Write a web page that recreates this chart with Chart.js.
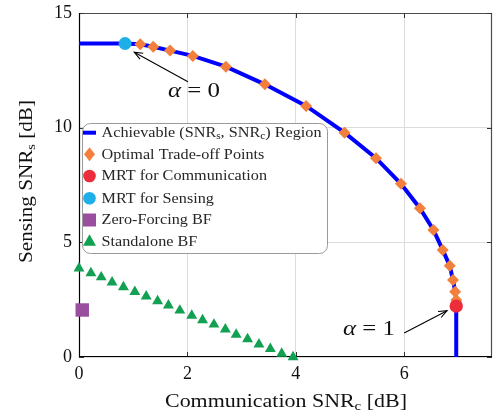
<!DOCTYPE html>
<html>
<head>
<meta charset="utf-8">
<script src="https://cdn.jsdelivr.net/npm/chart.js@4"></script>
<style>
html,body{margin:0;padding:0;background:#fff;overflow:hidden;}
#wrap{width:494px;height:415px;}
</style>
</head>
<body>
<div id="wrap"><canvas id="c" width="494" height="415"></canvas></div>
<script>
// ---- data ----
const xTicks = [0, 2, 4, 6];
const yTicks = [0, 5, 10, 15];

// Achievable region boundary (SNR_c, SNR_s)
const regionSNRc = [0, 0.85, 1.13, 1.37, 1.68, 2.10, 2.71, 3.43, 4.19, 4.90, 5.48, 5.94, 6.29, 6.54, 6.71, 6.84, 6.90, 6.94, 6.96, 6.96, 6.96];
const regionSNRs = [13.67, 13.67, 13.64, 13.53, 13.36, 13.13, 12.66, 11.89, 10.95, 9.78, 8.67, 7.55, 6.49, 5.54, 4.67, 3.98, 3.36, 2.85, 2.49, 2.22, 0];

// Optimal trade-off points
const optSNRc = [1.13, 1.37, 1.68, 2.10, 2.71, 3.43, 4.19, 4.90, 5.48, 5.94, 6.29, 6.54, 6.71, 6.84, 6.90, 6.94, 6.96];
const optSNRs = [13.64, 13.53, 13.36, 13.13, 12.66, 11.89, 10.95, 9.78, 8.67, 7.55, 6.49, 5.54, 4.67, 3.98, 3.36, 2.85, 2.49];

// MRT for communication / sensing
const mrtCommSNRc = [6.96];
const mrtCommSNRs = [2.22];
const mrtSensSNRc = [0.85];
const mrtSensSNRs = [13.67];

// Zero-forcing BF
const zfSNRc = [0.06];
const zfSNRs = [2.05];

// Standalone BF
const saSNRc = [0, 0.22, 0.41, 0.61, 0.82, 1.03, 1.24, 1.45, 1.65, 1.86, 2.08, 2.28, 2.49, 2.70, 2.90, 3.11, 3.32, 3.53, 3.74, 3.95];
const saSNRs = [3.87, 3.66, 3.48, 3.26, 3.05, 2.84, 2.65, 2.44, 2.25, 2.03, 1.81, 1.61, 1.42, 1.21, 0.98, 0.78, 0.55, 0.36, 0.15, 0.0];

const pts = (xs, ys) => xs.map((x, i) => ({x: x, y: ys[i]}));

// ---- styles ----
const C = {
  blue: '#0000ff',
  orange: '#f2803c',
  red: '#ec2d3b',
  cyan: '#1eaee8',
  purple: '#9a4f9e',
  green: '#12a052'
};
const SERIF = "'Liberation Serif', 'DejaVu Serif', serif";
const LEG = 15, LSUB = 10.5;
const AREA = {left: 79, top: 13, right: 492, bottom: 357};

const legendItems = [
  {type: 'line', color: C.blue, parts: [['Achievable (SNR',LEG,0],['s',LSUB,3.5],[', SNR',LEG,0],['c',LSUB,3.5],[') Region',LEG,0]]},
  {type: 'rectRot', color: C.orange, parts: [['Optimal Trade-off Points',LEG,0]]},
  {type: 'circle', color: C.red, parts: [['MRT for Communication',LEG,0]]},
  {type: 'circle', color: C.cyan, parts: [['MRT for Sensing',LEG,0]]},
  {type: 'rect', color: C.purple, parts: [['Zero-Forcing BF',LEG,0]]},
  {type: 'triangle', color: C.green, parts: [['Standalone BF',LEG,0]]}
];

function partsWidth(ctx, parts) {
  let total = 0;
  parts.forEach(p => { ctx.font = (p[3] ? p[3] + ' ' : '') + p[1] + 'px ' + SERIF; total += ctx.measureText(p[0]).width; });
  return total;
}

function drawParts(ctx, parts, x, y, align, sx) {
  sx = sx || 1;
  const total = partsWidth(ctx, parts) * sx;
  let cx = align === 'center' ? x - total / 2 : x;
  parts.forEach(p => {
    ctx.font = (p[3] ? p[3] + ' ' : '') + p[1] + 'px ' + SERIF;
    const w = ctx.measureText(p[0]).width;
    ctx.save();
    ctx.translate(cx, y + p[2]);
    ctx.scale(sx, 1);
    ctx.fillText(p[0], 0, 0);
    ctx.restore();
    cx += w * sx;
  });
}

function drawFit(ctx, parts, x, y, targetW) {
  const w = partsWidth(ctx, parts);
  drawParts(ctx, parts, x, y, 'center', targetW / w);
}

function drawMarker(ctx, type, color, x, y) {
  ctx.save();
  ctx.fillStyle = color;
  ctx.strokeStyle = color;
  ctx.beginPath();
  if (type === 'line') {
    ctx.lineWidth = 4;
    ctx.moveTo(x - 6.5, y); ctx.lineTo(x + 6.5, y); ctx.stroke();
  } else if (type === 'rectRot') {
    ctx.moveTo(x, y - 7); ctx.lineTo(x + 5.5, y); ctx.lineTo(x, y + 7); ctx.lineTo(x - 5.5, y); ctx.closePath(); ctx.fill();
  } else if (type === 'circle') {
    ctx.arc(x, y, 6.3, 0, Math.PI * 2); ctx.fill();
  } else if (type === 'rect') {
    ctx.rect(x - 6.5, y - 6.5, 13, 13); ctx.fill();
  } else if (type === 'triangle') {
    ctx.moveTo(x, y - 7); ctx.lineTo(x + 6.5, y + 4.5); ctx.lineTo(x - 6.5, y + 4.5); ctx.closePath(); ctx.fill();
  }
  ctx.restore();
}

function arrow(ctx, x1, y1, x2, y2) {
  ctx.save();
  ctx.strokeStyle = '#000'; ctx.fillStyle = '#000'; ctx.lineWidth = 1.1;
  ctx.beginPath(); ctx.moveTo(x1, y1); ctx.lineTo(x2, y2); ctx.stroke();
  const a = Math.atan2(y2 - y1, x2 - x1);
  const L = 9, s = 0.38;
  ctx.beginPath();
  ctx.moveTo(x2 - L * Math.cos(a - s), y2 - L * Math.sin(a - s));
  ctx.lineTo(x2, y2);
  ctx.lineTo(x2 - L * Math.cos(a + s), y2 - L * Math.sin(a + s));
  ctx.stroke();
  ctx.restore();
}

const annotations = [
  {label: '0', text: {x: 2.12, y: 11.56}, from: {x: 2.01, y: 12.0}, to: {x: 1.02, y: 13.29}},
  {label: '1', text: {x: 5.35, y: 1.18}, from: {x: 6.0, y: 1.05}, to: {x: 6.79, y: 2.02}}
];

const decor = {
  id: 'decor',
  afterLayout(chart) {
    // pin the plot area to where the reference has it
    const a = chart.chartArea;
    a.left = AREA.left; a.top = AREA.top; a.right = AREA.right; a.bottom = AREA.bottom;
    a.width = AREA.right - AREA.left; a.height = AREA.bottom - AREA.top;
    const x = chart.scales.x, y = chart.scales.y;
    x.left = AREA.left; x.right = AREA.right; x.width = a.width;
    x.top = AREA.bottom; x.bottom = chart.height; x.height = chart.height - AREA.bottom;
    y.left = 0; y.right = AREA.left; y.width = AREA.left;
    y.top = AREA.top; y.bottom = AREA.bottom; y.height = a.height;
    x.configure(); y.configure();
  },
  beforeDatasetsDraw(chart) {
    const {ctx, chartArea: a, scales} = chart;
    ctx.save();
    ctx.strokeStyle = '#4d4d4d'; ctx.lineWidth = 1.2;
    ctx.beginPath();
    ctx.moveTo(a.left, a.top + 0.5); ctx.lineTo(a.right - 0.5, a.top + 0.5); ctx.lineTo(a.right - 0.5, a.bottom);
    ctx.stroke();
    ctx.strokeStyle = '#333'; ctx.lineWidth = 1;
    ctx.beginPath();
    xTicks.forEach(v => { const px = Math.round(scales.x.getPixelForValue(v)) + 0.5;
      ctx.moveTo(px, a.bottom); ctx.lineTo(px, a.bottom - 5);
      ctx.moveTo(px, a.top); ctx.lineTo(px, a.top + 5); });
    yTicks.forEach(v => { const py = Math.round(scales.y.getPixelForValue(v)) + 0.5;
      ctx.moveTo(a.left, py); ctx.lineTo(a.left + 5, py);
      ctx.moveTo(a.right, py); ctx.lineTo(a.right - 5, py); });
    ctx.stroke();
    ctx.strokeStyle = '#000'; ctx.lineWidth = 1.2;
    ctx.beginPath();
    ctx.moveTo(a.left + 0.5, a.top); ctx.lineTo(a.left + 0.5, a.bottom - 0.5); ctx.lineTo(a.right, a.bottom - 0.5);
    ctx.stroke();
    ctx.restore();
  },
  afterDraw(chart) {
    const {ctx, scales} = chart;
    ctx.save();
    ctx.fillStyle = '#111';
    ctx.textBaseline = 'middle';
    drawFit(ctx, [['Communication SNR',19,0],['c',13,4.5],[' [dB]',19,0]], 286, 402, 242);
    ctx.save();
    ctx.translate(27, 181.5);
    ctx.rotate(-Math.PI / 2);
    drawFit(ctx, [['Sensing SNR',19,0],['s',13,4.5],[' [dB]',19,0]], 0, 0, 163);
    ctx.restore();

    annotations.forEach(an => {
      const tx = scales.x.getPixelForValue(an.text.x), ty = scales.y.getPixelForValue(an.text.y);
      ctx.fillStyle = '#111';
      drawFit(ctx, [['α',21,0,'italic'],[' = ' + an.label,21,0]], tx, ty, 52);
      arrow(ctx, scales.x.getPixelForValue(an.from.x), scales.y.getPixelForValue(an.from.y),
                 scales.x.getPixelForValue(an.to.x), scales.y.getPixelForValue(an.to.y));
    });

    const bx = 82, by = 123, bw = 245, bh = 130, r = 8;
    ctx.beginPath();
    ctx.roundRect(bx + 0.5, by + 0.5, bw, bh, r);
    ctx.fillStyle = '#fff'; ctx.fill();
    ctx.strokeStyle = '#9a9a9a'; ctx.lineWidth = 1; ctx.stroke();
    const rowY = [132.7, 154.3, 176, 198.3, 220, 241.3];
    const legStretch = 220 / partsWidth(ctx, legendItems[0].parts);
    legendItems.forEach((it, i) => {
      drawMarker(ctx, it.type, it.color, 89.5, rowY[i]);
      ctx.fillStyle = '#262626';
      drawParts(ctx, it.parts, 101.5, rowY[i] + 0.5, 'left', legStretch);
    });
    ctx.restore();
  }
};

new Chart(document.getElementById('c'), {
  type: 'scatter',
  data: {
    datasets: [
      {label: 'Region', data: pts(regionSNRc, regionSNRs), showLine: true, borderColor: C.blue, borderWidth: 4,
       pointRadius: 0, tension: 0, fill: false, order: 6, clip: false},
      {label: 'Standalone BF', data: pts(saSNRc, saSNRs), pointStyle: 'triangle', pointRadius: 6.3,
       backgroundColor: C.green, borderWidth: 0, order: 5, clip: false},
      {label: 'ZF', data: pts(zfSNRc, zfSNRs), pointStyle: 'rect', pointRadius: 9.5,
       backgroundColor: C.purple, borderWidth: 0, order: 4, clip: false},
      {label: 'MRT Sens', data: pts(mrtSensSNRc, mrtSensSNRs), pointStyle: 'circle', pointRadius: 6.5,
       backgroundColor: C.cyan, borderWidth: 0, order: 3, clip: false},
      {label: 'Optimal', data: pts(optSNRc, optSNRs), pointStyle: 'rectRot', pointRadius: 6,
       backgroundColor: C.orange, borderWidth: 0, order: 2, clip: false},
      {label: 'MRT Comm', data: pts(mrtCommSNRc, mrtCommSNRs), pointStyle: 'circle', pointRadius: 6.7,
       backgroundColor: C.red, borderWidth: 0, order: 1, clip: false}
    ]
  },
  options: {
    responsive: false,
    animation: false,
    devicePixelRatio: 1,
    layout: {padding: {left: 0, right: 2, top: 13, bottom: 0}},
    plugins: {legend: {display: false}, tooltip: {enabled: false}},
    scales: {
      x: {
        type: 'linear', min: 0, max: 7.62,
        afterBuildTicks: s => { s.ticks = xTicks.map(v => ({value: v})); },
        grid: {color: '#dcdcdc', lineWidth: 1, drawTicks: false},
        border: {display: false},
        ticks: {padding: 6, color: '#111', font: {family: SERIF, size: 18}, maxRotation: 0, autoSkip: false}
      },
      y: {
        type: 'linear', min: 0, max: 15,
        afterBuildTicks: s => { s.ticks = yTicks.map(v => ({value: v})); },
        grid: {color: '#dcdcdc', lineWidth: 1, drawTicks: false},
        border: {display: false},
        ticks: {padding: 7, color: '#111', font: {family: SERIF, size: 18}, autoSkip: false}
      }
    }
  },
  plugins: [decor]
});
</script>
</body>
</html>
